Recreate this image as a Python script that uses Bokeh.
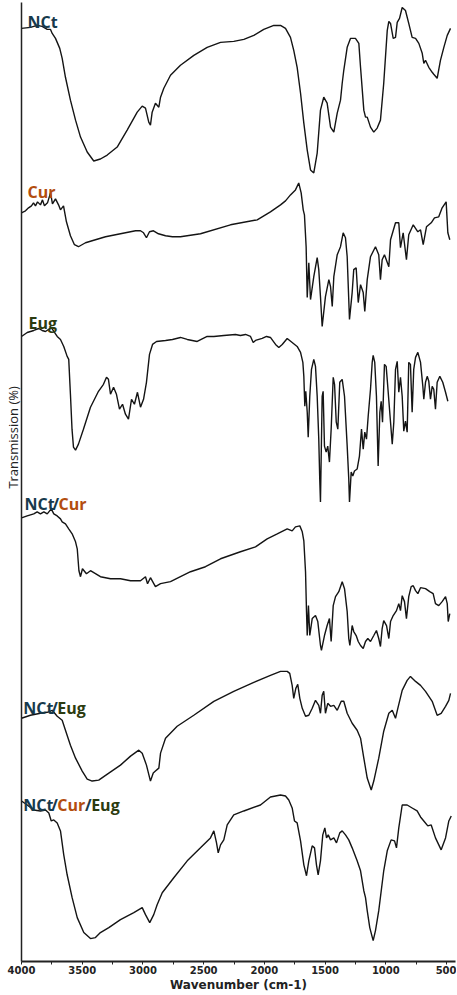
from bokeh.plotting import figure
from bokeh.models import Range1d, FixedTicker, LinearAxis
from bokeh.core.properties import value
from bokeh.embed import file_html
from bokeh.resources import INLINE

# ---------------- data (wavenumber cm-1, stacked transmission in arbitrary units) -------------
wn_nct = [4000, 3926, 3871, 3830, 3788, 3761, 3747, 3720, 3685, 3665, 3638, 3597, 3555, 3514, 3459,
          3405, 3350, 3294, 3212, 3130, 3047, 3006, 2979, 2952, 2938, 2924, 2897, 2869, 2855, 2828,
          2773, 2691, 2581, 2471, 2361, 2252, 2169, 2087, 2005, 1922, 1867, 1826, 1785, 1758, 1730,
          1702, 1675, 1647, 1620, 1593, 1565, 1538, 1511, 1483, 1455, 1428, 1400, 1373, 1359, 1346,
          1318, 1291, 1250, 1222, 1208, 1181, 1167, 1153, 1126, 1099, 1071, 1044, 1017, 988, 975,
          961, 939, 920, 906, 887, 865, 838, 811, 783, 755, 728, 700, 687, 673, 646, 618, 605, 577,
          550, 522, 494, 467]
t_nct = [936, 937, 939, 938, 935, 935, 931, 926, 916, 906, 887, 864, 844, 827, 812,
         803, 805, 809, 817, 834, 852, 858, 856, 842, 839, 852, 861, 857, 867, 876,
         889, 899, 909, 917, 922, 923, 925, 929, 935, 939, 939, 936, 927, 914, 897,
         871, 841, 814, 794, 791, 811, 854, 867, 861, 837, 832, 851, 864, 881, 894,
         917, 926, 926, 921, 897, 854, 847, 847, 837, 832, 836, 844, 881, 934, 943,
         941, 926, 927, 942, 946, 957, 954, 941, 927, 926, 921, 911, 901, 904, 897, 892, 890, 886,
         904, 917, 929, 936]

wn_cur = [4000, 3967, 3942, 3918, 3901, 3885, 3868, 3844, 3827, 3811, 3786, 3761, 3745, 3720, 3695,
          3679, 3654, 3630, 3597, 3564, 3531, 3473, 3391, 3308, 3185, 3061, 3020, 2995, 2971, 2946,
          2913, 2872, 2814, 2757, 2691, 2526, 2279, 2059, 1950, 1867, 1826, 1785, 1744, 1717, 1697,
          1680, 1670, 1656, 1647, 1634, 1620, 1593, 1565, 1552, 1538, 1524, 1497, 1469, 1455, 1441,
          1428, 1400, 1373, 1351, 1332, 1318, 1299, 1277, 1264, 1244, 1227, 1208, 1186, 1173, 1153,
          1126, 1085, 1058, 1044, 1030, 1011, 975, 961, 920, 893, 879, 857, 830, 811, 774, 736, 714,
          692, 665, 626, 599, 564, 536, 503, 489, 473]
t_cur = [751, 753, 756, 758, 761, 758, 762, 759, 764, 758, 761, 771, 760, 765, 759,
         754, 758, 742, 728, 719, 717, 721, 724, 727, 730, 733, 733, 731, 726, 732,
         733, 730, 728, 727, 727, 730, 739, 744, 752, 759, 763, 769, 774, 781, 771,
         754, 749, 717, 666, 701, 664, 687, 706, 694, 667, 637, 667, 684, 677, 657,
         687, 709, 717, 731, 726, 707, 644, 671, 694, 696, 661, 679, 671, 652, 684,
         707, 717, 709, 684, 704, 709, 697, 724, 741, 741, 716, 731, 704, 729, 739, 732, 734,
         719, 737, 741, 746, 747, 756, 762, 731, 724]

wn_eug = [4000, 3953, 3899, 3858, 3830, 3802, 3767, 3755, 3734, 3706, 3679, 3652, 3624, 3611, 3597,
          3584, 3572, 3555, 3531, 3490, 3432, 3366, 3325, 3300, 3284, 3267, 3242, 3218, 3193, 3168,
          3144, 3119, 3094, 3070, 3045, 3020, 2995, 2971, 2946, 2921, 2888, 2814, 2757, 2691, 2635,
          2553, 2471, 2416, 2334, 2238, 2197, 2155, 2114, 2092, 2073, 2018, 1982, 1950, 1908, 1881,
          1853, 1812, 1771, 1730, 1702, 1683, 1675, 1667, 1659, 1647, 1639, 1626, 1612, 1593, 1579,
          1565, 1552, 1544, 1538, 1524, 1516, 1505, 1491, 1478, 1464, 1450, 1433, 1422, 1408, 1395,
          1379, 1359, 1340, 1318, 1305, 1299, 1285, 1272, 1258, 1236, 1217, 1200, 1186, 1173, 1159,
          1145, 1126, 1112, 1104, 1091, 1077, 1063, 1049, 1038, 1027, 1011, 997, 984, 961, 947, 934,
          920, 906, 893, 879, 865, 852, 838, 824, 811, 797, 783, 770, 755, 736, 714, 695, 687, 673,
          659, 646, 632, 618, 605, 591, 577, 555, 531, 508, 489]
t_eug = [627, 631, 633, 635, 633, 632, 635, 636, 632, 627, 624, 617, 607, 604, 569,
         534, 516, 513, 519, 534, 556, 572, 579, 586, 584, 569, 576, 569, 554, 559,
         549, 544, 564, 559, 571, 556, 564, 581, 609, 619, 622, 623, 624, 626, 624,
         622, 627, 627, 628, 629, 628, 629, 627, 621, 623, 625, 627, 626, 619, 616,
         619, 625, 621, 617, 611, 601, 587, 557, 572, 551, 526, 567, 594, 604, 597,
         567, 524, 484, 461, 567, 572, 517, 511, 517, 501, 534, 586, 579, 541, 534,
         581, 584, 567, 517, 484, 461, 491, 487, 492, 494, 507, 534, 514, 531, 524,
         547, 574, 601, 608, 601, 567, 497, 551, 562, 541, 599, 597, 577, 541, 519, 541,
         594, 602, 571, 586, 567, 532, 542, 531, 601, 599, 551, 594, 606, 611, 601, 577, 564, 581,
         587, 582, 564, 577, 574, 554, 581, 587, 581, 571, 562]

wn_nctcur = [4000, 3953, 3899, 3871, 3844, 3816, 3788, 3755, 3734, 3706, 3679, 3665, 3638, 3611, 3583,
             3555, 3541, 3527, 3514, 3498, 3465, 3432, 3350, 3267, 3185, 3102, 3020, 2979, 2962, 2938,
             2897, 2855, 2773, 2691, 2608, 2485, 2361, 2197, 2073, 1977, 1894, 1812, 1771, 1744, 1708,
             1688, 1675, 1661, 1653, 1647, 1637, 1626, 1606, 1579, 1560, 1538, 1530, 1505, 1483, 1464,
             1450, 1433, 1414, 1387, 1359, 1340, 1318, 1305, 1296, 1277, 1264, 1244, 1227, 1208, 1186,
             1167, 1148, 1126, 1099, 1077, 1058, 1044, 1030, 1017, 994, 975, 961, 939, 912, 893, 879,
             865, 846, 830, 811, 791, 774, 755, 736, 714, 673, 638, 610, 591, 564, 536, 508, 494, 486, 473]
t_nctcur = [445, 447, 449, 451, 449, 451, 449, 454, 449, 447, 444, 441, 439, 434, 429,
            421, 414, 392, 386, 394, 389, 392, 386, 384, 384, 382, 382, 386, 379, 385,
            376, 379, 381, 386, 391, 396, 404, 411, 416, 424, 429, 434, 432, 436, 437,
            431, 422, 391, 351, 327, 357, 327, 344, 347, 341, 317, 312, 327, 337, 344,
            321, 357, 366, 371, 381, 374, 351, 324, 317, 337, 331, 327, 321, 317, 314,
            321, 324, 321, 327, 332, 324, 316, 334, 342, 337, 324, 341, 347, 352, 359, 352,
            367, 361, 344, 366, 376, 377, 372, 369, 375, 374, 371, 369, 359, 357, 361, 366, 359, 341, 349]

wn_ncteug = [4000, 3926, 3844, 3788, 3747, 3706, 3665, 3638, 3597, 3555, 3500, 3459, 3418, 3364, 3281,
             3185, 3102, 3034, 3006, 2971, 2938, 2915, 2897, 2869, 2855, 2814, 2718, 2581, 2416, 2252,
             2087, 1950, 1867, 1812, 1791, 1771, 1758, 1741, 1725, 1708, 1688, 1661, 1634, 1606, 1579,
             1552, 1538, 1524, 1511, 1497, 1478, 1455, 1428, 1400, 1367, 1346, 1318, 1277, 1236, 1208,
             1181, 1153, 1120, 1099, 1058, 1017, 975, 947, 920, 901, 865, 824, 797, 755, 714, 673, 618,
             577, 544, 508, 481, 467]
t_ncteug = [244, 247, 249, 250, 252, 246, 242, 232, 217, 204, 191, 183, 181, 182, 189,
            197, 206, 212, 209, 197, 181, 189, 191, 194, 209, 224, 236, 247, 261, 271,
            280, 287, 291, 291, 289, 277, 264, 274, 278, 264, 254, 246, 247, 254, 262,
            257, 249, 267, 271, 249, 259, 256, 257, 252, 261, 261, 249, 239, 232, 224,
            204, 184, 172, 181, 204, 231, 249, 252, 244, 254, 272, 282, 286, 281, 277, 271, 261,
            247, 249, 256, 262, 269]

wn_all = [4000, 3953, 3899, 3844, 3802, 3775, 3755, 3734, 3706, 3679, 3652, 3624, 3583, 3541, 3487,
          3432, 3391, 3350, 3281, 3185, 3075, 3006, 2979, 2944, 2911, 2883, 2841, 2746, 2635, 2526,
          2444, 2416, 2394, 2380, 2361, 2334, 2306, 2252, 2169, 2032, 1950, 1867, 1826, 1799, 1771,
          1752, 1730, 1702, 1675, 1653, 1634, 1606, 1587, 1571, 1557, 1538, 1519, 1502, 1488, 1474,
          1455, 1428, 1406, 1379, 1359, 1332, 1305, 1277, 1236, 1208, 1181, 1167, 1153, 1132, 1104,
          1085, 1058, 1017, 988, 956, 928, 912, 893, 865, 824, 783, 742, 714, 687, 654, 626, 591,
          544, 508, 481, 461]
t_all = [161, 157, 152, 151, 152, 149, 141, 142, 139, 131, 107, 87, 64, 44, 29,
         23, 24, 29, 34, 42, 49, 54, 47, 39, 47, 57, 69, 84, 101, 114,
         124, 131, 119, 109, 117, 122, 137, 147, 151, 157, 165, 167, 166, 162, 154,
         141, 139, 121, 97, 86, 101, 116, 114, 97, 87, 101, 127, 134, 124, 127,
         122, 124, 119, 129, 131, 127, 122, 114, 101, 91, 71, 64, 51, 34, 21,
         31, 51, 91, 111, 122, 121, 114, 134, 157, 157, 154, 151, 145, 141, 136, 137, 124,
         112, 124, 141, 146]

spectra = [(wn_nct, t_nct), (wn_cur, t_cur), (wn_eug, t_eug),
           (wn_nctcur, t_nctcur), (wn_ncteug, t_ncteug), (wn_all, t_all)]

# sample labels: segments of (text, colour)
C_NCT, C_CUR, C_EUG = "#173a4c", "#b34d0e", "#2c3b10"
label_parts = [
    [("NCt", C_NCT)],
    [("Cur", C_CUR)],
    [("Eug", C_EUG)],
    [("NCt", C_NCT), ("/", C_NCT), ("Cur", C_CUR)],
    [("NCt", C_NCT), ("/", C_NCT), ("Eug", C_EUG)],
    [("NCt", C_NCT), ("/", C_NCT), ("Cur", C_CUR), ("/", C_NCT), ("Eug", C_EUG)],
]
label_x = [3951, 3951, 3942, 3975, 3985, 3985]
label_y = [942, 772, 640, 459, 254, 157]

x_ticks = [4000, 3500, 3000, 2500, 2000, 1500, 1000, 500]
x_minor = [3750, 3250, 2750, 2250, 1750, 1250, 750]
Y_TITLE = "Transmission (%)"

# ---------------- figure ----------------
p = figure(width=456, height=994, output_backend="svg", toolbar_location=None,
           x_range=Range1d(4000, 426), y_range=Range1d(0, 962),
           min_border_left=21, min_border_right=1, min_border_top=2, min_border_bottom=30)
p.outline_line_color = None
p.grid.visible = False
p.background_fill_color = "white"

for wn, t in spectra:
    p.line(wn, t, line_color="#141414", line_width=1.4)

FONT_SIZE = 16
char_w = {'N': 0.74, 'C': 0.64, 't': 0.36, '/': 0.38, 'u': 0.64, 'r': 0.46, 'E': 0.55, 'g': 0.6}
for parts, lx, ly in zip(label_parts, label_x, label_y):
    off = 0.0
    for txt, col in parts:
        p.text(x=[lx], y=[ly], text=[txt], x_offset=off, text_color=col,
               text_font=value("Open Sans"), text_font_style="bold",
               text_font_size=f"{FONT_SIZE}px", text_baseline="alphabetic", text_align="left")
        off += sum(char_w.get(c, 0.6) for c in txt) * FONT_SIZE

# x axis
xa = p.xaxis[0]
xa.ticker = FixedTicker(ticks=x_ticks, minor_ticks=x_minor)
xa.axis_label = "Wavenumber (cm-1)"
xa.axis_label_text_font = "DejaVu Sans"
xa.axis_label_text_font_style = "bold"
xa.axis_label_text_font_size = "12px"
xa.axis_label_text_color = "#222222"
xa.axis_label_standoff = 1
xa.major_label_text_font = "DejaVu Sans"
xa.major_label_text_font_style = "bold"
xa.major_label_text_font_size = "10px"
xa.major_label_text_color = "#222222"
xa.major_label_standoff = 1
xa.axis_line_width = 2
xa.axis_line_color = "#222222"
xa.major_tick_out = 3
xa.major_tick_in = 0
xa.minor_tick_out = 3
xa.minor_tick_in = 0
xa.major_tick_line_color = "#222222"
xa.minor_tick_line_color = "#222222"

# y axis: spine only
ya = p.yaxis[0]
ya.ticker = FixedTicker(ticks=[])
ya.major_tick_line_color = None
ya.minor_tick_line_color = None
ya.axis_line_color = "#222222"
ya.axis_line_width = 1.5

# second left axis carrying only the title (leading figure spaces lift it above centre)
yt = LinearAxis(ticker=FixedTicker(ticks=[]),
                axis_label="\u2007" * 12 + Y_TITLE, axis_line_color=None,
                major_tick_line_color=None, minor_tick_line_color=None,
                axis_label_text_font="Open Sans", axis_label_text_font_size="13px",
                axis_label_text_font_style="normal", axis_label_text_color="#222222",
                axis_label_standoff=0)
p.add_layout(yt, "left")

open("out.html", "w").write(file_html(p, INLINE))
